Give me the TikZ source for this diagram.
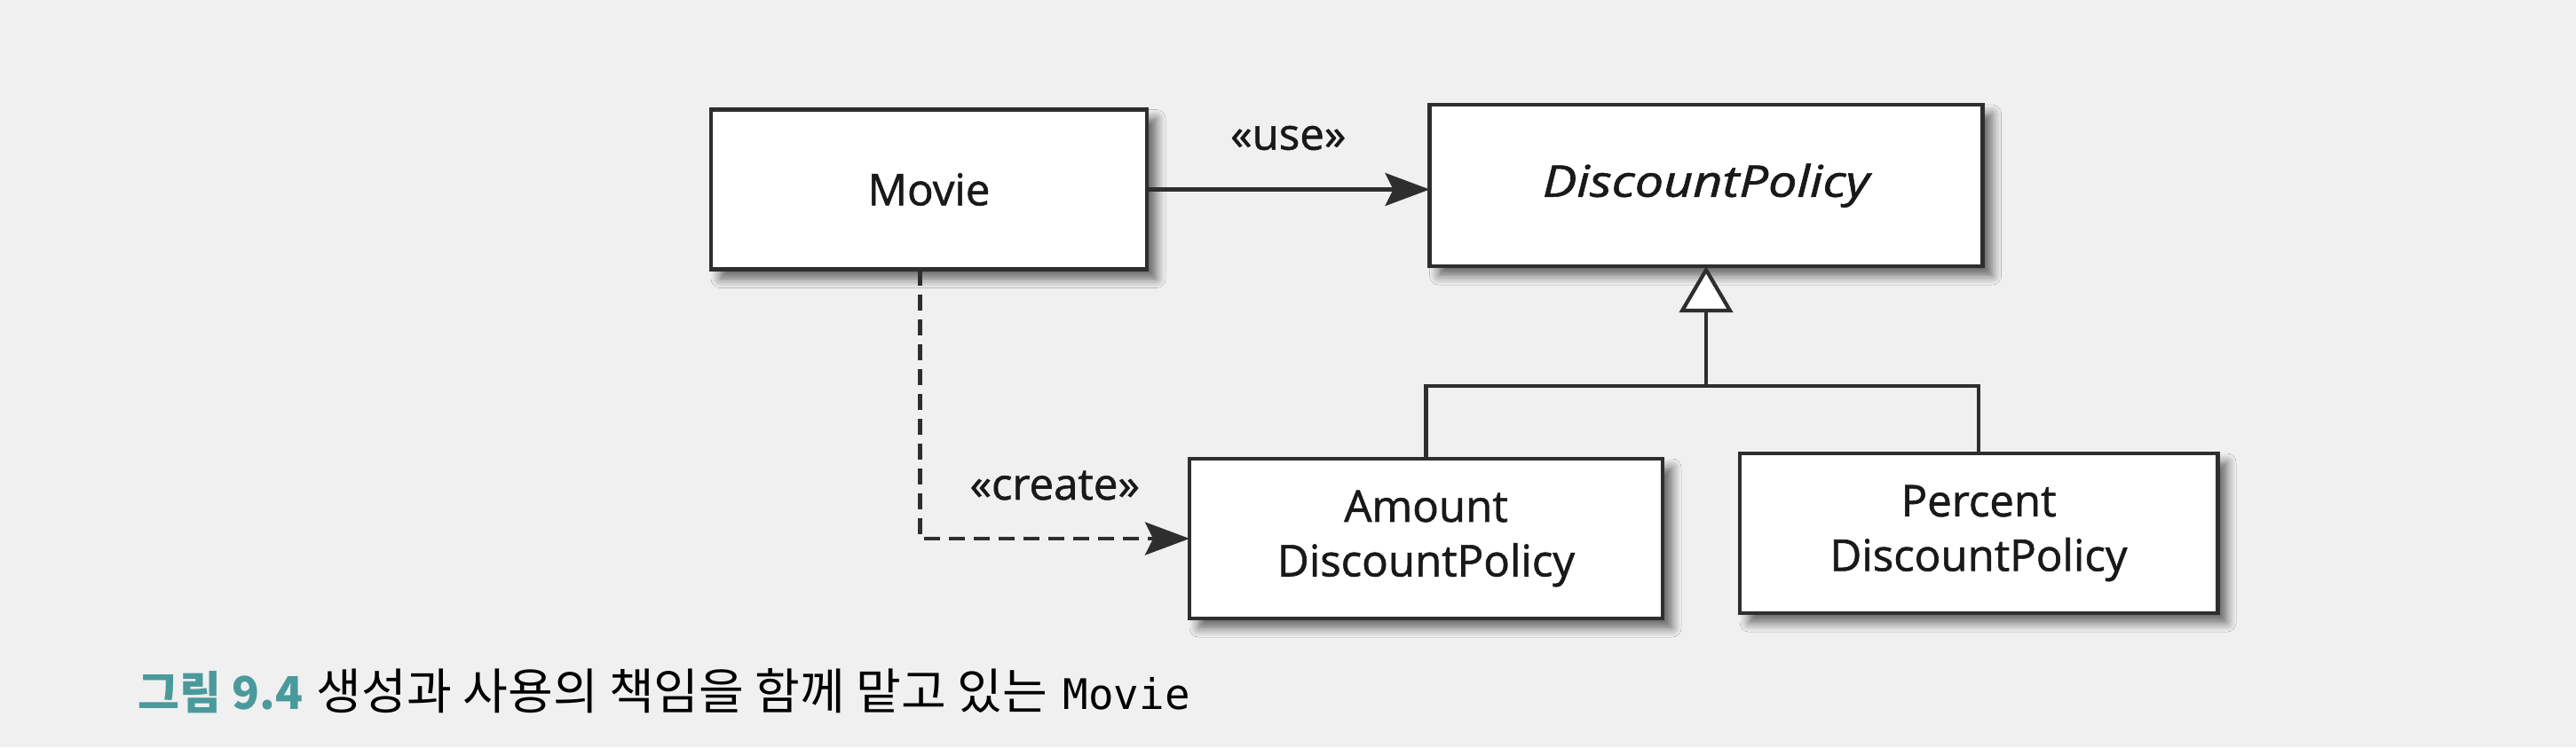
\documentclass[tikz,border=0pt]{standalone}
\usepackage{fontspec}
\setmainfont{Open Sans}[FakeBold=1.2]
\setmonofont{DejaVu Sans Mono}
\newfontfamily\kofont{Noto Sans CJK KR}
\usepackage{tikz}
\usetikzlibrary{arrows.meta,positioning,calc,shadows.blur}
\usepackage{xcolor}
\definecolor{fpaper}{HTML}{F0F0F0}
\definecolor{fline}{HTML}{2E2E2E}
\definecolor{fteal}{HTML}{4A9A9C}
\tikzset{
  classbox/.style = {draw=fline, line width=1.4pt, fill=white, rectangle,
                     minimum height=1.8cm, align=center, outer sep=0pt,
                     font=\fontsize{14}{17.5}\selectfont, text=black!90,
                     blur shadow={shadow xshift=3pt, shadow yshift=-3pt,
                                  shadow blur steps=8, shadow blur radius=3pt,
                                  shadow opacity=60}},
  use/.style      = {-{Stealth[length=5mm, width=3.7mm, inset=0.9mm]},
                     line width=1.2pt, draw=fline},
  create/.style   = {use, dash pattern=on 1.8mm off 1mm},
  inherit/.style  = {-{Triangle[open, length=5.2mm, width=6mm, fill=white]},
                     line width=1.2pt, draw=fline},
  stereo/.style   = {font=\fontsize{14}{17}\selectfont, text=black!90},
}

\begin{document}
\begin{tikzpicture}[x=1cm,y=1cm]
\fill[fpaper] (0,0) rectangle (29.02,8.42);
\useasboundingbox (0,0) rectangle (29.02,8.42);
% ---- classes ----
\node[classbox, minimum width=4.91cm] (movie) at (10.465,6.285) {Movie};
\node[classbox, minimum width=6.23cm, minimum height=1.82cm] (dp) at (19.22,6.33)
  {\scalebox{1.17}[1]{\itshape DiscountPolicy}};
\node[classbox, minimum width=5.33cm] (amount) at (16.065,2.35) {Amount\\DiscountPolicy};
\node[classbox, minimum width=5.38cm] (percent) at (22.29,2.41) {Percent\\DiscountPolicy};
% ---- use / create ----
\draw[use] (movie) -- node[stereo, midway, yshift=5.8mm] {«use»} (movie -| dp.west);
\coordinate (mvdown) at ([xshift=-1mm]movie.south);
\draw[create] (mvdown) |- node[stereo, pos=0.75, yshift=6mm] {«create»} (amount.west);
% ---- generalization ----
\coordinate (junc) at (dp.south |- 0,4.07);
\draw[line width=1.2pt, fline] (amount.north) |- (junc) -| (percent.north);
\draw[inherit] (junc) -- (dp.south);
% ---- caption ----
\node[anchor=base west, inner sep=0pt] (cap) at (1.55,0.43)
  {{\kofont\fontsize{14.5}{17}\selectfont\bfseries\color{fteal}그림 9.4}\hspace{0.45em}%
   {\kofont\fontsize{15.7}{18}\selectfont 생성과 사용의 책임을 함께 맡고 있는}\hspace{0.5em}%
   {\fontsize{13.5}{16}\selectfont\ttfamily Movie}};
\end{tikzpicture}
\end{document}
